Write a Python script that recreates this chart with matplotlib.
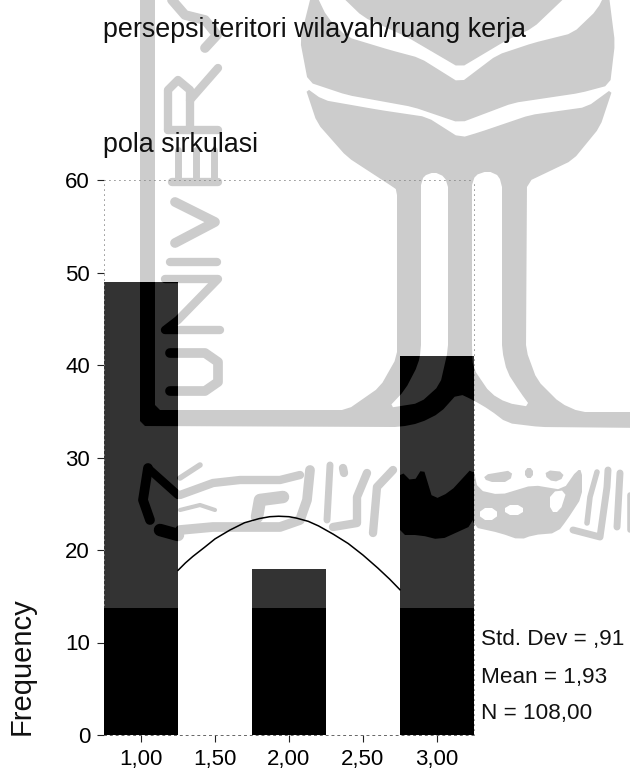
import numpy as np
import matplotlib
matplotlib.use('Agg')
import matplotlib.pyplot as plt
from matplotlib.path import Path
from matplotlib.patches import PathPatch
from matplotlib.lines import Line2D
from matplotlib.transforms import Affine2D

plt.rcParams['font.family'] = ['Liberation Sans', 'DejaVu Sans']

# data
bins = [1.0, 2.0, 3.0]
counts = [49, 18, 41]
curve_x = [1.25, 1.3, 1.35, 1.43, 1.5, 1.6, 1.7, 1.8, 1.87, 1.93, 2.0, 2.05, 2.13, 2.2, 2.3, 2.4, 2.5, 2.6, 2.68, 2.75]
curve_y = [17.8, 18.6, 19.3, 20.3, 21.2, 22.15, 22.95, 23.4, 23.6, 23.65, 23.6, 23.45, 23.1, 22.6, 21.7, 20.7, 19.45, 18.05, 16.85, 15.7]
x_ticks = [1.0, 1.5, 2.0, 2.5, 3.0]
x_labels = ['1,00', '1,50', '2,00', '2,50', '3,00']
y_ticks = [0, 10, 20, 30, 40, 50, 60]
stats = ['Std. Dev = ,91', 'Mean = 1,93', 'N = 108,00']
band_top = 13.7  # below this the scan is fully black

# scanned watermark, traced in pixels from the top left corner
leaf_top = [(313, -12), (300, 40), (308, 82), (347, 95), (413, 107), (460, 123), (513, 103), (580, 93), (610, 85),
            (615, 43), (608, -12), (597, 10), (573, 33), (533, 43), (497, 55), (460, 83), (420, 58), (390, 50),
            (347, 37), (327, 17)]
leaf_mid = [(333, -12), (363, 17), (407, 37), (460, 68), (507, 40), (533, 28), (575, -12)]
body = [(305, 87), (323, 100), (380, 110), (427, 117), (460, 138), (480, 132), (530, 115), (587, 107), (613, 88),
        (600, 127), (573, 160), (527, 182), (526, 350), (537, 380), (560, 403), (580, 412), (650, 412), (650, 428),
        (540, 427), (507, 423), (490, 410), (473, 400), (458, 393), (440, 413), (420, 423), (400, 427), (140, 426),
        (140, -12), (155, -12), (155, 410), (347, 410), (380, 387), (397, 357), (397, 190), (393, 187), (347, 157),
        (317, 123)]
slot_a = [(421, 180), (428, 173), (440, 173), (448, 182), (448, 350), (440, 385), (420, 403), (388, 408),
          (405, 390), (418, 365), (421, 350)]
slot_b = [(472, 180), (480, 172), (495, 172), (502, 182), (502, 350), (507, 372), (520, 392), (531, 407),
          (507, 403), (490, 393), (473, 368), (472, 350)]
callig = [(473, 467), (478, 490), (500, 495), (533, 485), (563, 490), (577, 470), (582, 470), (582, 497),
          (567, 520), (557, 533), (533, 535), (520, 540), (500, 533), (473, 527)]
callig_in = [(400, 470), (413, 483), (423, 467), (433, 500), (450, 492), (473, 467), (473, 525), (440, 540),
             (420, 535), (400, 535)]
holes = [[(480, 508), (497, 508), (497, 520), (480, 520)],
         [(505, 505), (523, 505), (523, 515), (505, 515)],
         [(550, 492), (567, 490), (560, 512), (550, 512)]]
blobs = [[(483, 475), (513, 470), (510, 482), (487, 482)],
         [(525, 468), (533, 468), (533, 478), (525, 478)],
         [(545, 470), (565, 472), (560, 482), (547, 480)]]

strokes = [
    ([(170, 353), (205, 353), (218, 362), (218, 382), (205, 391), (170, 391)], 7),
    ([(165, 279), (218, 279), (178, 320), (165, 330), (220, 330)], 6),
    ([(170, 262), (217, 262)], 6),
    ([(175, 202), (215, 222), (175, 243)], 7),
    ([(172, 182), (218, 182)], 6), ([(178, 150), (178, 182)], 5), ([(196, 150), (196, 182)], 5),
    ([(214, 150), (214, 182)], 5),
    ([(168, 130), (218, 130)], 6), ([(168, 130), (168, 90), (178, 80), (190, 90), (190, 130)], 6),
    ([(190, 100), (218, 68)], 6),
    ([(205, 48), (217, 35), (205, 20), (185, 15), (172, 0)], 7),
    ([(148, 468), (143, 500), (150, 520)], 7), ([(150, 470), (178, 495)], 6), ([(160, 530), (178, 535)], 9),
    ([(200, 465), (180, 478)], 4), ([(180, 495), (213, 483), (240, 480), (280, 480), (300, 475)], 6),
    ([(180, 530), (213, 527), (257, 527), (280, 527), (300, 520), (307, 500), (310, 470)], 7),
    ([(257, 517), (260, 500), (283, 497)], 9), ([(180, 510), (200, 505), (215, 510)], 3),
    ([(327, 520), (330, 465)], 5), ([(343, 468), (344, 473)], 6),
    ([(373, 533), (377, 487), (393, 470)], 6), ([(333, 527), (357, 523), (357, 497), (367, 473)], 6),
    ([(573, 530), (600, 537), (607, 487), (608, 470)], 5), ([(587, 523), (590, 497), (597, 472)], 4),
    ([(617, 527), (620, 473)], 5), ([(630, 530), (630, 495)], 4),
]

rings = [(leaf_top, []), (leaf_mid, []), (body, [slot_a, slot_b]), (callig, holes), (callig_in, [])]
rings += [(b, []) for b in blobs]


def soften(pts, cut=5.0):
    # trim each corner by a few pixels so the trace is not so angular
    pts = np.array(pts, float)
    out = []
    for a, b in zip(pts, np.roll(pts, -1, axis=0)):
        d = b - a
        t = min(cut / max(np.hypot(*d), 1e-6), 0.3)
        out += [a + d * t, b - d * t]
    return np.array(out)


def ring_path(outer, inner):
    verts, codes = [], []
    for n, pts in enumerate([outer] + inner):
        pts = soften(pts)
        x, y = pts[:, 0], pts[:, 1]
        area = np.sum(x * np.roll(y, -1) - np.roll(x, -1) * y)
        # holes need to run the other way round
        if (area > 0) != (n == 0):
            pts = pts[::-1]
        verts += list(pts) + [pts[0]]
        codes += [Path.MOVETO] + [Path.LINETO] * (len(pts) - 1) + [Path.CLOSEPOLY]
    return Path(verts, codes)


def draw_mark(ax, color, z, clip=None):
    for outer, inner in rings:
        p = PathPatch(ring_path(outer, inner), fc=color, ec='none', transform=to_px, zorder=z, clip_on=False)
        ax.add_patch(p)
        if clip is not None:
            p.set_clip_on(True)
            p.set_clip_path(clip)
    for pts, lw in strokes:
        xs, ys = zip(*pts)
        l = Line2D(xs, ys, color=color, lw=lw, transform=to_px, zorder=z, clip_on=False,
                   solid_capstyle='round', solid_joinstyle='round')
        ax.add_line(l)
        if clip is not None:
            l.set_clip_on(True)
            l.set_clip_path(clip)


fig = plt.figure(figsize=(6.3, 7.7), dpi=100)
to_px = Affine2D().scale(1, -1).translate(0, 770)
ax = fig.add_axes([104 / 630, 1 - 735 / 770, 370 / 630, 555 / 770])
ax.patch.set_alpha(0)

draw_mark(ax, '#cccccc', 1)

bars = ax.bar(bins, counts, width=0.5, color='#333333', zorder=2)
for b in bars:
    draw_mark(ax, 'black', 3, clip=b)
ax.bar(bins, np.minimum(counts, band_top), width=0.5, color='black', zorder=4)
ax.plot(curve_x, curve_y, color='black', lw=1.1, zorder=5)

ax.set_xlim(0.75, 3.25)
ax.set_ylim(0, 60)
ax.set_xticks(x_ticks)
ax.set_xticklabels(x_labels)
ax.set_yticks(y_ticks)
ax.tick_params(labelsize=16, length=5, width=0.8, pad=5, color='#222222')

for s in ['left', 'top', 'right']:
    ax.spines[s].set_linestyle((0, (1, 5)))
    ax.spines[s].set_linewidth(0.6)
    ax.spines[s].set_color('#888888')
ax.spines['bottom'].set_linestyle((0, (2, 4)))
ax.spines['bottom'].set_linewidth(0.7)
ax.spines['bottom'].set_color('#666666')

fig.text(103 / 630, 1 - 37 / 770, 'persepsi teritori wilayah/ruang kerja', fontsize=19.4, color='#111111')
fig.text(103 / 630, 1 - 152 / 770, 'pola sirkulasi', fontsize=19.4, color='#111111')
fig.text(22 / 630, 1 - 666 / 770, 'Frequency', fontsize=21, rotation=90, ha='center', va='center', color='#111111')
for s, y in zip(stats, [640, 677, 714]):
    fig.text(481 / 630, 1 - y / 770, s, fontsize=16.2, va='center', color='#111111')

fig.savefig('out.png', dpi=100)
